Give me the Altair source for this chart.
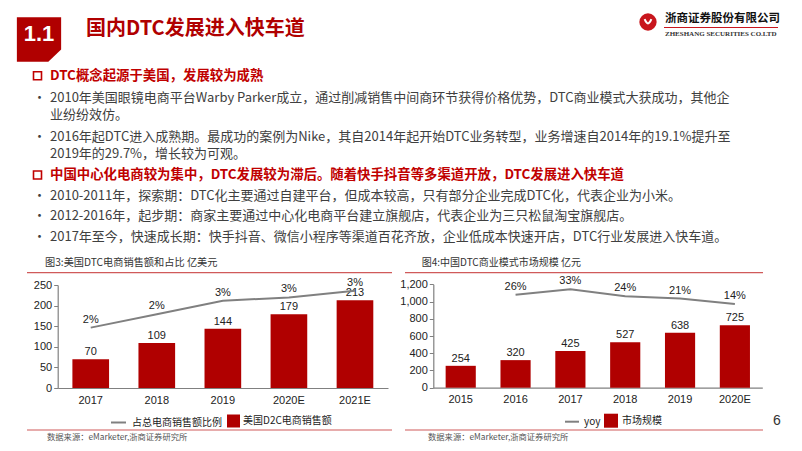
import altair as alt
import pandas as pd

# ---------------- data ----------------
us_years = ["2017", "2018", "2019", "2020E", "2021E"]
us_sales = [70, 109, 144, 179, 213]
us_share = [0.018, 0.022, 0.026, 0.027, 0.029]
us_ticks = [0, 50, 100, 150, 200, 250]

cn_years = ["2015", "2016", "2017", "2018", "2019", "2020E"]
cn_size = [254, 320, 425, 527, 638, 725]
cn_yoy_years = ["2016", "2017", "2018", "2019", "2020E"]
cn_yoy = [0.26, 0.33, 0.24, 0.21, 0.14]
cn_ticks = [0, 200, 400, 600, 800, 1000, 1200]

section_no = "1.1"
page_title = "国内DTC发展进入快车道"
company_cn = "浙商证券股份有限公司"
company_en = "ZHESHANG SECURITIES CO.LTD"
heading1 = "DTC概念起源于美国，发展较为成熟"
para1 = ["2010年美国眼镜电商平台Warby Parker成立，通过削减销售中间商环节获得价格优势，DTC商业模式大获成功，其他企",
         "业纷纷效仿。"]
para2 = ["2016年起DTC进入成熟期。最成功的案例为Nike，其自2014年起开始DTC业务转型，业务增速自2014年的19.1%提升至",
         "2019年的29.7%，增长较为可观。"]
heading2 = "中国中心化电商较为集中，DTC发展较为滞后。随着快手抖音等多渠道开放，DTC发展进入快车道"
bullets2 = ["2010-2011年，探索期：DTC化主要通过自建平台，但成本较高，只有部分企业完成DTC化，代表企业为小米。",
            "2012-2016年，起步期：商家主要通过中心化电商平台建立旗舰店，代表企业为三只松鼠淘宝旗舰店。",
            "2017年至今，快速成长期：快手抖音、微信小程序等渠道百花齐放，企业低成本快速开店，DTC行业发展进入快车道。"]
fig3_title = "图3:美国DTC电商销售额和占比 亿美元"
fig4_title = "图4:中国DTC商业模式市场规模 亿元"
source_text = "数据来源：eMarketer,浙商证券研究所"
us_line_name = "占总电商销售额比例"
us_bar_name = "美国D2C电商销售额"
cn_line_name = "yoy"
cn_bar_name = "市场规模"
page_no = "6"

# ---------------- styles ----------------
CJK = "Noto Sans CJK SC"
SANS = "Liberation Sans"
RED = "#B00000"
HRED = "#C00000"
GREY_LINE = "#808080"
TXT = "#404040"
DARK = "#222222"

one = pd.DataFrame({"k": [0]})


def txt(s, x, y, size, color, weight="normal", font=CJK, align="left", baseline="middle"):
    return alt.Chart(one).mark_text(
        text=s, fontSize=size, color=color, fontWeight=weight, font=font,
        align=align, baseline=baseline
    ).encode(x=alt.value(x), y=alt.value(y))


def hrule(x1, x2, y, color, w):
    return alt.Chart(one).mark_rule(color=color, strokeWidth=w).encode(
        x=alt.value(x1), x2=alt.value(x2), y=alt.value(y))


def sym(shape, x, y, size, fill=None, stroke=None, sw=0, filled=True):
    kw = dict(shape=shape, size=size, filled=filled, opacity=1, strokeWidth=sw)
    if fill is not None:
        kw["fill"] = fill
    if stroke is not None:
        kw["stroke"] = stroke
    return alt.Chart(one).mark_point(**kw).encode(x=alt.value(x), y=alt.value(y))


layers = []

# ---------------- header ----------------
layers.append(sym("M-1,-1L1,-1L1,0.45L0.42,1L-1,1Z", 31, 31.5, 1960, fill=RED))
layers.append(txt(section_no, 31, 26, 22, "white", "bold", SANS, "center"))
layers.append(txt(page_title, 78, 21, 20, RED, "bold"))
layers.append(sym("circle", 640, 14, 300, fill="#C8161D"))
layers.append(sym("M-0.55,-0.45Q0,0.9 0.55,-0.45", 640, 14, 150, stroke="white", sw=2, filled=False))
layers.append(txt(company_cn, 657, 11, 11.5, "#111111", "bold"))
layers.append(hrule(656, 770, 19.5, "#C8161D", 1))
layers.append(txt(company_en, 657, 25.5, 7, "#333333", "bold", "Liberation Serif"))

BODY = 13
HEAD = 13.4
layers.append(sym("square", 29.5, 67.7, 64, stroke=HRED, sw=1.6, filled=False))
layers.append(txt(heading1, 42, 67.7, HEAD, HRED, "bold"))
layers.append(txt("•", 25, 89.7, BODY, TXT))
layers.append(txt(para1[0], 42, 89.7, BODY, TXT))
layers.append(txt(para1[1], 42, 107, BODY, TXT))
layers.append(txt("•", 25, 128.7, BODY, TXT))
layers.append(txt(para2[0], 42, 128.7, BODY, TXT))
layers.append(txt(para2[1], 42, 146, BODY, TXT))
layers.append(sym("square", 29.5, 167, 64, stroke=HRED, sw=1.6, filled=False))
layers.append(txt(heading2, 42, 167, HEAD, HRED, "bold"))
for i, b in enumerate(bullets2):
    yy = [188, 208.3, 228.7][i]
    layers.append(txt("•", 25, yy, BODY, TXT))
    layers.append(txt(b, 42, yy, BODY, TXT))

# ---------------- figure decorations ----------------
layers.append(txt(fig3_title, 37, 254.5, 10.2, "#333333"))
layers.append(txt(fig4_title, 413.7, 255, 10, "#333333"))
layers.append(hrule(19, 384, 264.7, "#D05A5A", 1.2))
layers.append(hrule(397, 755, 264.7, "#D05A5A", 1.2))
layers.append(hrule(19, 384, 422, "#D05A5A", 1.2))
layers.append(hrule(397, 755, 422, "#D05A5A", 1.2))
layers.append(txt(source_text, 39, 429.5, 8.3, "#555555"))
layers.append(txt(source_text, 420, 429.5, 8.3, "#555555"))
layers.append(txt(page_no, 769, 412.5, 14, "#333333", "normal", SANS, "center"))

# ---------------- chart 3 (US) ----------------
us_df = pd.DataFrame({"year": us_years, "sales": us_sales, "share": us_share,
                      "s_bar": us_bar_name, "s_line": us_line_name})


def band(domain, r0, r1, pi):
    return alt.Scale(type="band", domain=domain, range=[r0, r1], paddingInner=pi, paddingOuter=pi / 2)


def xaxis(off):
    return alt.Axis(orient="bottom", offset=off, domainColor=GREY_LINE, domainWidth=1.2, ticks=False,
                    labelFont=SANS, labelFontSize=11, labelColor=DARK, labelPadding=6, labelAngle=0,
                    grid=False, title=None)


def yaxis(off, vals, fmt):
    return alt.Axis(orient="left", offset=off, values=vals, format=fmt, domainColor=GREY_LINE,
                    domainWidth=1.2, tickColor=GREY_LINE, tickSize=4, labelPadding=2, labelFont=SANS,
                    labelFontSize=11, labelColor=DARK, grid=False, title=None)


def legend(x, y, stype, ssize, sw, off):
    return alt.Legend(orient="none", legendX=x, legendY=y, title=None,
                      symbolType=stype, symbolSize=ssize, symbolStrokeWidth=sw,
                      labelFont=CJK, labelFontSize=10, labelColor=DARK,
                      labelOffset=off, padding=0)


us_x = band(us_years, 49.7, 380, 0.445)
us_y = alt.Scale(domain=[0, 250], range=[380, 277], nice=False, zero=True)
us_y2 = alt.Scale(domain=[0, 0.0307], range=[380, 277], nice=False, zero=True)

us_bars = alt.Chart(us_df).mark_bar().encode(
    x=alt.X("year:N", scale=us_x, axis=xaxis(-55), sort=us_years),
    y=alt.Y("sales:Q", scale=us_y, axis=yaxis(-49.7, us_ticks, ".0f")),
    color=alt.Color("s_bar:N", scale=alt.Scale(domain=[us_bar_name], range=[RED]),
                    legend=legend(219, 406.5, "square", 169, 0, 3)),
)
us_bar_lab = alt.Chart(us_df).mark_text(font=SANS, fontSize=11, color=DARK, baseline="bottom", dy=-2).encode(
    x=alt.X("year:N", scale=us_x, axis=None, sort=us_years),
    y=alt.Y("sales:Q", scale=us_y, axis=None),
    text=alt.Text("sales:Q"),
)
us_line = alt.Chart(us_df).mark_line(strokeWidth=2).encode(
    x=alt.X("year:N", scale=us_x, axis=None, sort=us_years),
    y=alt.Y("share:Q", scale=us_y2, axis=None),
    color=alt.Color("s_line:N", scale=alt.Scale(domain=[us_line_name], range=[GREY_LINE]),
                    legend=legend(102, 406, "stroke", 225, 2, 5)),
)
us_line_lab = alt.Chart(us_df).mark_text(font=SANS, fontSize=11, color=DARK, baseline="bottom", dy=-3).encode(
    x=alt.X("year:N", scale=us_x, axis=None, sort=us_years),
    y=alt.Y("share:Q", scale=us_y2, axis=None),
    text=alt.Text("share:Q", format=".0%"),
)
layers += [us_bars, us_bar_lab, us_line, us_line_lab]

# ---------------- chart 4 (China) ----------------
cn_df = pd.DataFrame({"year": cn_years, "size": cn_size, "s_bar": cn_bar_name})
cn_line_df = pd.DataFrame({"year": cn_yoy_years, "yoy": cn_yoy, "s_line": cn_line_name})

cn_x = band(cn_years, 425.3, 754.3, 0.45)
cn_y = alt.Scale(domain=[0, 1200], range=[379.7, 276.3], nice=False, zero=True)
cn_y2 = alt.Scale(domain=[-0.942, 0.394], range=[379.7, 276.3], nice=False, zero=False)

cn_bars = alt.Chart(cn_df).mark_bar().encode(
    x=alt.X("year:N", scale=cn_x, axis=xaxis(-55.3), sort=cn_years),
    y=alt.Y("size:Q", scale=cn_y, axis=yaxis(-425.3, cn_ticks, ",.0f")),
    color=alt.Color("s_bar:N", scale=alt.Scale(domain=[cn_bar_name], range=[RED]),
                    legend=legend(596, 405.7, "square", 196, 0, 4)),
)
cn_bar_lab = alt.Chart(cn_df).mark_text(font=SANS, fontSize=11, color=DARK, baseline="bottom", dy=-2).encode(
    x=alt.X("year:N", scale=cn_x, axis=None, sort=cn_years),
    y=alt.Y("size:Q", scale=cn_y, axis=None),
    text=alt.Text("size:Q"),
)
cn_line = alt.Chart(cn_line_df).mark_line(strokeWidth=2).encode(
    x=alt.X("year:N", scale=cn_x, axis=None, sort=cn_years),
    y=alt.Y("yoy:Q", scale=cn_y2, axis=None),
    color=alt.Color("s_line:N", scale=alt.Scale(domain=[cn_line_name], range=[GREY_LINE]),
                    legend=legend(556, 405.7, "stroke", 196, 2, 4)),
)
cn_line_lab = alt.Chart(cn_line_df).mark_text(font=SANS, fontSize=11, color=DARK, baseline="bottom", dy=-3).encode(
    x=alt.X("year:N", scale=cn_x, axis=None, sort=cn_years),
    y=alt.Y("yoy:Q", scale=cn_y2, axis=None),
    text=alt.Text("yoy:Q", format=".0%"),
)
layers += [cn_bars, cn_bar_lab, cn_line, cn_line_lab]

chart = alt.layer(*layers).resolve_scale(
    x="independent", y="independent", color="independent"
).resolve_axis(
    x="independent", y="independent"
).resolve_legend(
    color="independent"
).properties(
    width=786, height=435, padding=0,
    autosize=alt.AutoSizeParams(type="none"),
    background="white",
).configure_view(stroke=None)

chart.save("out.html", embed_options={"renderer": "svg", "actions": False})
